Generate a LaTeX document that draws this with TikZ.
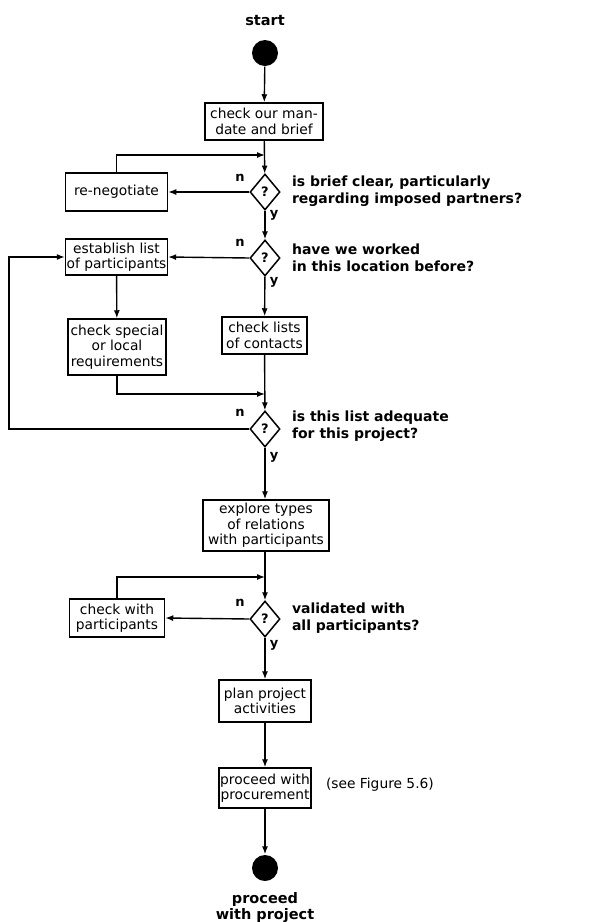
\documentclass[tikz,border=0pt]{standalone}
\usepackage{fontspec}
\setmainfont{DejaVu Sans}
\usetikzlibrary{shapes.geometric,arrows.meta}
\begin{document}
\begin{tikzpicture}[x=1pt, y=-1pt,
    >={Latex[length=8pt,width=6pt]},
    every path/.style={line width=1.4pt},
    box/.style={draw, line width=1.5pt, align=center, inner sep=1pt,
        font=\fontsize{13.8}{15.5}\selectfont},
    ask/.style={draw, diamond, line width=1.5pt, minimum width=30pt,
        minimum height=36pt, inner sep=0pt, font=\fontsize{13}{15}\bfseries},
    blob/.style={circle, fill, minimum size=26pt, inner sep=0pt},
    quest/.style={anchor=west, align=left, font=\fontsize{14}{17}\bfseries},
    yn/.style={font=\fontsize{13}{15}\bfseries}]
    \useasboundingbox (0,0) rectangle (592,922);
    % start and first check
    \node[font=\fontsize{14.5}{17}\bfseries] (start) at (265,21) {start};
    \node[blob] (s) at (265,53) {};
    \node[box, minimum width=118pt, minimum height=37pt] (brief) at (264,121.5) {check our man-\\date and brief};
    \draw[->] (s) -- (brief);
    % brief clear?
    \node[ask] (d1) at (265,192) {?};
    \node[box, minimum width=102pt, minimum height=38pt] (reneg) at (116.5,192) {re-negotiate};
    \node[quest] (q1) at (288,191) {is brief clear, particularly\\regarding imposed partners?};
    \coordinate (j1) at (265,155);
    \draw[->] (brief) -- (d1);
    \draw[->] (d1.west) -- (reneg.east);
    \draw[->] (reneg.north) |- (j1);
    \node[yn] (n1) at (240,178) {n};
    \node[yn] (y1) at (274,215) {y};
    % worked here before?
    \node[ask] (d2) at (265,258) {?};
    \node[box, minimum width=101pt, minimum height=36pt] (estab) at (116.5,257) {establish list\\of participants};
    \node[quest] (q2) at (288,258) {have we worked\\in this location before?};
    \draw[->] (d1) -- (d2);
    \draw[->] (d2.west) -- (estab.east);
    \node[yn] (n2) at (240,243) {n};
    \node[yn] (y2) at (274,282) {y};
    \node[box, minimum width=98pt, minimum height=56pt] (special) at (117,347) {check special\\or local\\requirements};
    \node[box, minimum width=85pt, minimum height=37pt] (lists) at (264.5,335.5) {check lists\\of contacts};
    \draw[->] (estab) -- (special);
    \draw[->] (d2) -- (lists);
    % list adequate?
    \node[ask] (d3) at (265,429) {?};
    \node[quest] (q3) at (288,426) {is this list adequate\\for this project?};
    \coordinate (j2) at (265,394);
    \coordinate (l3) at (9,429);
    \draw[->] (special.south) |- (j2);
    \draw[->] (lists) -- (d3);
    \draw[->] (d3.west) -- (l3) |- (estab.west);
    \node[yn] (n3) at (240,413) {n};
    \node[yn] (y3) at (274,457) {y};
    \node[box, minimum width=126pt, minimum height=51pt] (explore) at (266,525.5) {explore types\\of relations\\with participants};
    \draw[->] (d3) -- (explore.north -| d3);
    % validated?
    \node[ask] (d4) at (265,619) {?};
    \node[box, minimum width=95pt, minimum height=38pt] (chkwith) at (117,618) {check with\\participants};
    \node[quest] (q4) at (288,618) {validated with\\all participants?};
    \coordinate (j4) at (265,577);
    \draw[->] (explore.south -| d4) -- (d4);
    \draw[->] (d4.west) -- (chkwith.east);
    \draw[->] (chkwith.north) |- (j4);
    \node[yn] (n4) at (240,603) {n};
    \node[yn] (y4) at (274,645) {y};
    % plan and proceed
    \node[box, minimum width=92pt, minimum height=42pt] (plan) at (265,701) {plan project\\activities};
    \node[box, minimum width=92pt, minimum height=40pt] (procure) at (265,788) {proceed with\\procurement};
    \node[anchor=west, font=\fontsize{13.8}{16}\selectfont] (see) at (322,785) {(see Figure 5.6)};
    \node[blob] (e) at (265,868) {};
    \node[anchor=north, align=center, font=\fontsize{14.5}{16}\bfseries] (end) at (265,888) {proceed\\with project};
    \draw[->] (d4) -- (plan);
    \draw[->] (plan) -- (procure);
    \draw[->] (procure) -- (e);
\end{tikzpicture}
\end{document}
